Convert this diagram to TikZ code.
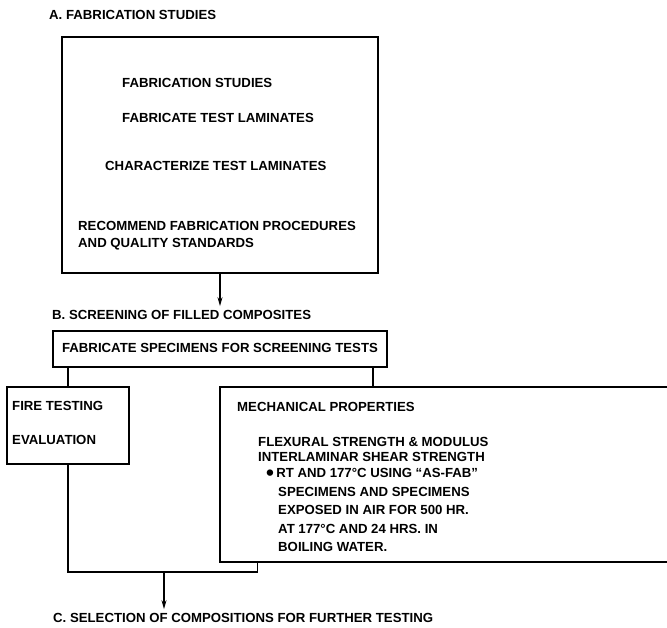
\documentclass[tikz,border=0pt]{standalone}
\usepackage{fontspec}
\setmainfont{Liberation Sans}
\usetikzlibrary{arrows.meta}
\begin{document}
\begin{tikzpicture}[x=1pt,y=-1pt,
    box/.style={draw,line width=1.7pt,inner sep=0pt},
    lbl/.style={anchor=west,inner sep=0pt,font=\bfseries\fontsize{13.2}{17}\selectfont,align=left},
    link/.style={line width=1.3pt},
    flow/.style={line width=1.3pt,-{Stealth[length=9pt,width=5pt]}}]
  \useasboundingbox (0,0) rectangle (667,627);
  % A
  \node[lbl] (titleA) at (49,15) {A. FABRICATION STUDIES};
  \node[box,minimum width=316,minimum height=236] (fab) at (220,155) {};
  \node[lbl] (fs) at (122,83) {FABRICATION STUDIES};
  \node[lbl] (ftl) at (122,118) {FABRICATE TEST LAMINATES};
  \node[lbl] (ctl) at (105,166) {CHARACTERIZE TEST LAMINATES};
  \node[lbl] (rec) at (78,235.5) {RECOMMEND FABRICATION PROCEDURES\\AND QUALITY STANDARDS};
  % B
  \node[lbl] (titleB) at (52,315) {B. SCREENING OF FILLED COMPOSITES};
  \node[box,minimum width=334,minimum height=36] (screen) at (220,349) {};
  \node[lbl,anchor=center] (screentxt) at (220,348) {FABRICATE SPECIMENS FOR SCREENING TESTS};
  \node[box,minimum width=122,minimum height=77] (fire) at (68,425.5) {};
  \node[lbl] (firetxt) at (12,406) {FIRE TESTING};
  \node[lbl] (evaltxt) at (12,440) {EVALUATION};
  \node[box,minimum width=455,minimum height=175] (mech) at (447.5,474.5) {};
  \node[lbl] (mechtxt) at (237,407) {MECHANICAL PROPERTIES};
  \node[lbl,font=\bfseries\fontsize{13.2}{15.5}\selectfont] (flex) at (258,449.5)
    {FLEXURAL STRENGTH \& MODULUS\\INTERLAMINAR SHEAR STRENGTH};
  \node[lbl,font=\bfseries\fontsize{13.2}{18.5}\selectfont] (cond) at (266,510)
    {\raisebox{-3.2pt}{\scalebox{1.7}{•}}\,RT AND 177°C USING “AS-FAB”\\
     \hspace*{12pt}SPECIMENS AND SPECIMENS\\
     \hspace*{12pt}EXPOSED IN AIR FOR 500 HR.\\
     \hspace*{12pt}AT 177°C AND 24 HRS. IN\\
     \hspace*{12pt}BOILING WATER.};
  % C
  \node[lbl] (titleC) at (53,618) {C. SELECTION OF COMPOSITIONS FOR FURTHER TESTING};
  \coordinate (join) at (164,571);
  \draw[flow] (fab.south) -- ([yshift=4pt]titleB.north -| fab.south);
  \draw[link] (fire.north) -- (fire.north |- screen.south);
  \draw[link] ([xshift=-15pt]screen.south east) -- ([xshift=-15pt]screen.south east |- mech.north);
  \draw[link] (fire.south) |- ([xshift=38pt,yshift=-9pt]mech.south west) -- ([xshift=38pt]mech.south west);
  \draw[flow] (join) -- ([yshift=4pt]titleC.north -| join);
\end{tikzpicture}
\end{document}
